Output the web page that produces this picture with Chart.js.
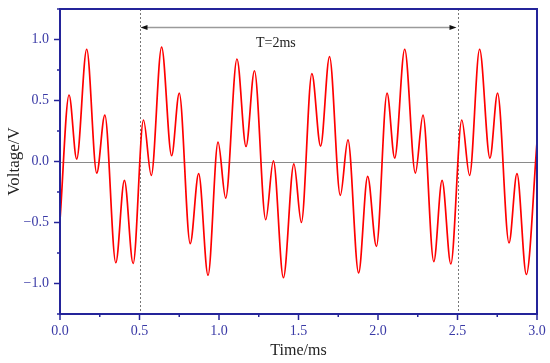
<!DOCTYPE html>
<html>
<head>
<meta charset="utf-8">
<script src="https://cdn.jsdelivr.net/npm/chart.js@4/dist/chart.umd.min.js"></script>
<style>
  body { margin: 0; background: #fff; }
  canvas { display: block; }
</style>
</head>
<body>
<canvas id="waveChart" width="550" height="363"></canvas>
<script>
// waveform (ms, V) - local peaks and troughs
const timeMs = [0, 0.057, 0.105, 0.168, 0.231, 0.282, 0.351, 0.405, 0.46, 0.525,
  0.574, 0.639, 0.702, 0.75, 0.819, 0.872, 0.931, 0.994, 1.042, 1.113,
  1.17, 1.223, 1.294, 1.342, 1.405, 1.471, 1.518, 1.584, 1.639, 1.695,
  1.763, 1.811, 1.878, 1.935, 1.99, 2.057, 2.105, 2.168, 2.235, 2.283,
  2.351, 2.403, 2.458, 2.527, 2.576, 2.639, 2.704, 2.752, 2.824, 2.874,
  2.933, 3.0];
const voltage = [-0.48, 0.545, 0.02, 0.92, -0.095, 0.38, -0.83, -0.155, -0.836, 0.34,
  -0.114, 0.938, 0.047, 0.56, -0.673, -0.1, -0.932, 0.158, -0.30, 0.84,
  0.123, 0.744, -0.477, 0.006, -0.953, -0.019, -0.50, 0.72, 0.126, 0.859,
  -0.278, 0.177, -0.913, -0.122, -0.695, 0.56, 0.028, 0.92, -0.095, 0.38,
  -0.82, -0.155, -0.84, 0.34, -0.114, 0.92, 0.028, 0.56, -0.667, -0.10,
  -0.926, 0.16];

// period markers
const periodStart = 0.5;
const periodEnd = 2.5;
const periodLabel = 'T=2ms';

const axisBlue = '#24249a';
const labelBlue = '#3a3aa6';

function isMajor(v) {
  return Math.abs(v * 2 - Math.round(v * 2)) < 1e-6;
}

function fmt(v) {
  const s = Math.abs(v).toFixed(1);
  return v < -1e-9 ? '\u2212' + s : s;
}

// drop the extra room Chart.js keeps for end labels, layout padding decides
function noEndPadding(s) {
  s.paddingTop = 0;
  s.paddingBottom = 0;
  s.paddingLeft = 0;
  s.paddingRight = 0;
}

const overlayPlugin = {
  id: 'overlay',
  beforeDatasetsDraw(chart) {
    const ctx = chart.ctx;
    const area = chart.chartArea;
    const xs = chart.scales.x;
    const ys = chart.scales.y;
    ctx.save();

    // zero line
    const y0 = ys.getPixelForValue(0);
    ctx.strokeStyle = '#8a8a8a';
    ctx.lineWidth = 1;
    ctx.beginPath();
    ctx.moveTo(area.left, Math.round(y0) + 0.5);
    ctx.lineTo(area.right, Math.round(y0) + 0.5);
    ctx.stroke();

    // dotted period lines
    ctx.strokeStyle = '#777';
    ctx.setLineDash([2, 2]);
    [periodStart, periodEnd].forEach(t => {
      const px = Math.round(xs.getPixelForValue(t)) + 0.5;
      ctx.beginPath();
      ctx.moveTo(px, area.top);
      ctx.lineTo(px, area.bottom);
      ctx.stroke();
    });
    ctx.setLineDash([]);

    // double arrow
    const ay = Math.round(ys.getPixelForValue(1.1)) + 0.5;
    const ax1 = xs.getPixelForValue(periodStart);
    const ax2 = xs.getPixelForValue(periodEnd);
    ctx.strokeStyle = '#9a9a9a';
    ctx.lineWidth = 1.5;
    ctx.beginPath();
    ctx.moveTo(ax1 + 6, ay);
    ctx.lineTo(ax2 - 6, ay);
    ctx.stroke();
    ctx.fillStyle = '#111';
    ctx.beginPath();
    ctx.moveTo(ax1 + 1, ay);
    ctx.lineTo(ax1 + 8, ay - 2.5);
    ctx.lineTo(ax1 + 8, ay + 2.5);
    ctx.closePath();
    ctx.fill();
    ctx.beginPath();
    ctx.moveTo(ax2 - 1, ay);
    ctx.lineTo(ax2 - 8, ay - 2.5);
    ctx.lineTo(ax2 - 8, ay + 2.5);
    ctx.closePath();
    ctx.fill();

    // label
    ctx.fillStyle = '#222';
    ctx.font = '14px "Liberation Serif"';
    ctx.textAlign = 'center';
    ctx.textBaseline = 'middle';
    ctx.fillText(periodLabel, xs.getPixelForValue(1.358), ys.getPixelForValue(0.968));
    ctx.restore();
  },
  afterDraw(chart) {
    const ctx = chart.ctx;
    const area = chart.chartArea;
    const xs = chart.scales.x;
    const ys = chart.scales.y;
    ctx.save();
    ctx.strokeStyle = axisBlue;

    // tick marks, pointing outward
    ctx.lineWidth = 1.5;
    xs.ticks.forEach(t => {
      const px = xs.getPixelForValue(t.value);
      const len = isMajor(t.value) ? 6 : 3;
      ctx.beginPath();
      ctx.moveTo(px, area.bottom);
      ctx.lineTo(px, area.bottom + len);
      ctx.stroke();
    });
    ys.ticks.forEach(t => {
      const py = ys.getPixelForValue(t.value);
      const len = isMajor(t.value) ? 6 : 3;
      ctx.beginPath();
      ctx.moveTo(area.left, py);
      ctx.lineTo(area.left - len, py);
      ctx.stroke();
    });

    // frame
    ctx.lineWidth = 2;
    ctx.strokeRect(area.left, area.top, area.right - area.left, area.bottom - area.top);
    ctx.restore();
  }
};

new Chart(document.getElementById('waveChart'), {
  type: 'line',
  data: {
    datasets: [{
      data: timeMs.map((t, i) => ({ x: t, y: voltage[i] })),
      borderColor: '#ff0000',
      borderWidth: 1.7,
      pointRadius: 0,
      cubicInterpolationMode: 'monotone',
      fill: false
    }]
  },
  options: {
    responsive: false,
    animation: false,
    devicePixelRatio: 1,
    layout: { padding: { left: 0, right: 13, top: 9, bottom: 0 } },
    plugins: {
      legend: { display: false },
      tooltip: { enabled: false }
    },
    scales: {
      x: {
        type: 'linear',
        min: 0,
        max: 3,
        grid: { display: false, drawTicks: false },
        border: { display: false },
        ticks: {
          stepSize: 0.25,
          autoSkip: false,
          maxRotation: 0,
          padding: 9,
          color: labelBlue,
          font: { family: 'Liberation Serif', size: 14 },
          callback: v => isMajor(v) ? fmt(v) : ''
        },
        title: {
          display: true,
          text: 'Time/ms',
          color: '#222',
          font: { family: 'Liberation Serif', size: 16 },
          padding: { top: 0, bottom: 3 }
        },
        afterFit: s => { s.height = 49; noEndPadding(s); }
      },
      y: {
        min: -1.25,
        max: 1.25,
        grid: { display: false, drawTicks: false },
        border: { display: false },
        ticks: {
          stepSize: 0.25,
          autoSkip: false,
          padding: 11,
          color: labelBlue,
          font: { family: 'Liberation Serif', size: 14 },
          callback: v => isMajor(v) ? fmt(v) : ''
        },
        title: {
          display: true,
          text: 'Voltage/V',
          color: '#222',
          font: { family: 'Liberation Serif', size: 17 },
          padding: { top: 4, bottom: 0 }
        },
        afterFit: s => { s.width = 60; noEndPadding(s); }
      }
    }
  },
  plugins: [overlayPlugin]
});
</script>
</body>
</html>
